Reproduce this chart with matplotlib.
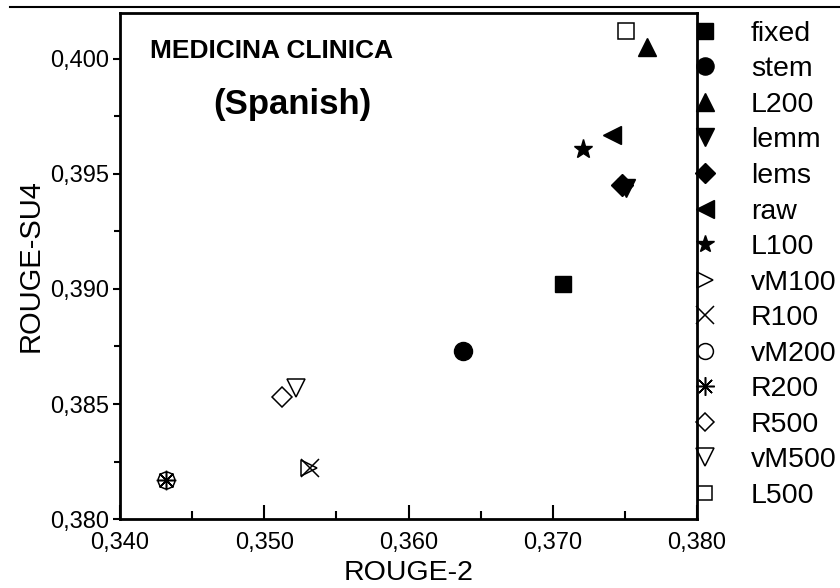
import numpy as np
import matplotlib
matplotlib.use("Agg")
import matplotlib.pyplot as plt
from matplotlib.lines import Line2D
from matplotlib.ticker import MultipleLocator, FuncFormatter

plt.rcParams['font.family'] = ['Liberation Sans', 'DejaVu Sans']

# data
labels = ['fixed', 'stem', 'L200', 'lemm', 'lems', 'raw', 'L100',
          'vM100', 'R100', 'vM200', 'R200', 'R500', 'vM500', 'L500']
rouge2 = [0.3707, 0.3638, 0.3765, 0.3751, 0.3748, 0.3741, 0.3721,
          0.3531, 0.3532, 0.3432, 0.3432, 0.3512, 0.3522, 0.3751]
rougesu4 = [0.3902, 0.3873, 0.4005, 0.3944, 0.3945, 0.3967, 0.3961,
            0.3822, 0.3822, 0.3817, 0.3817, 0.3853, 0.3857, 0.4012]
markers = ['s', 'o', '^', 'v', 'D', '<', '*',
           '>', 'x', 'o', (8, 2, 0), 'D', 'v', 's']
filled = [True] * 7 + [False] * 7
sizes = [12, 13, 13, 13, 11, 13, 14, 12, 13, 12, 14, 10, 13, 11]

fig = plt.figure(figsize=(8.4, 5.88), dpi=100)
ax = fig.add_axes([0.1429, 0.1173, 0.6869, 0.8607])

for i in range(len(labels)):
    if filled[i]:
        ax.plot(rouge2[i], rougesu4[i], linestyle='none', marker=markers[i],
                markersize=sizes[i], color='black', label=labels[i])
    else:
        ax.plot(rouge2[i], rougesu4[i], linestyle='none', marker=markers[i],
                markersize=sizes[i], markerfacecolor='none',
                markeredgecolor='black', markeredgewidth=1.1, label=labels[i])

ax.set_xlim(0.340, 0.380)
ax.set_ylim(0.380, 0.402)
ax.xaxis.set_major_locator(MultipleLocator(0.010))
ax.xaxis.set_minor_locator(MultipleLocator(0.005))
ax.yaxis.set_major_locator(MultipleLocator(0.005))
ax.yaxis.set_minor_locator(MultipleLocator(0.0025))
comma = FuncFormatter(lambda v, p: ('%.3f' % v).replace('.', ','))
ax.xaxis.set_major_formatter(comma)
ax.yaxis.set_major_formatter(comma)
ax.tick_params(which='both', top=False, right=False, labelsize=17, width=1.5)
ax.tick_params(axis='x', which='major', direction='in', length=10, pad=9)
ax.tick_params(axis='x', which='minor', direction='in', length=6)
ax.tick_params(axis='y', which='major', direction='out', length=5, pad=3)
ax.tick_params(axis='y', which='minor', direction='out', length=4)
for s in ax.spines.values():
    s.set_linewidth(2)

ax.set_xlabel('ROUGE-2', fontsize=20.5, labelpad=5)
ax.set_ylabel('ROUGE-SU4', fontsize=21, labelpad=4)

ax.text(0.052, 0.925, 'MEDICINA CLINICA', transform=ax.transAxes,
        fontsize=19, fontweight='bold', va='center', ha='left')
ax.text(0.298, 0.82, '(Spanish)', transform=ax.transAxes,
        fontsize=25, fontweight='bold', va='center', ha='center')

ax.legend(loc='upper left', bbox_to_anchor=(0.985, 0.99), frameon=False,
          fontsize=20.5, labelspacing=0.335, handletextpad=1.1,
          handlelength=1.0, borderaxespad=0, borderpad=0.1, markerscale=0.95)

fig.add_artist(Line2D([0.012, 1], [0.988, 0.988], color='black', linewidth=1.5))

fig.savefig('out.png', dpi=100)
